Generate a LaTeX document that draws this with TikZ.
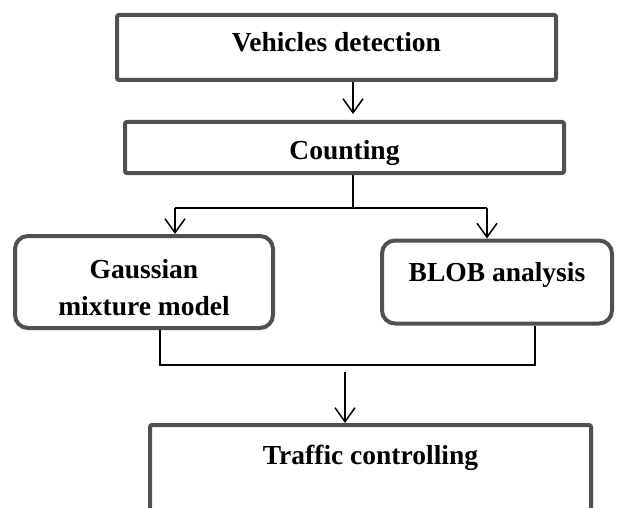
\documentclass[tikz,border=0pt]{standalone}
\usepackage{fontspec}
\setmainfont{Liberation Serif}
\usetikzlibrary{arrows.meta, positioning}
\definecolor{boxline}{RGB}{80, 80, 80}

\begin{document}
\begin{tikzpicture}[
    x = 1pt, y = -1pt,
    box/.style = {rectangle, rounded corners=2pt, draw=boxline, line width=4pt,
                  inner sep=0pt, align=center,
                  font=\fontsize{27.5}{37}\selectfont\bfseries},
    rbox/.style = {box, rounded corners=13pt},
    line/.style = {line width=1.5pt},
    arrow/.style = {line, -{Straight Barb[length=14pt, width=20pt]}}
  ]
    \useasboundingbox (0,0) rectangle (618,508);

    \node[box, minimum width=439pt, minimum height=65pt,
          text height=19pt, text depth=10pt] (veh) at (336.5,47.5)
      {Vehicles detection};

    \node[box, minimum width=439pt, minimum height=51pt,
          text height=24pt, text depth=1pt,
          below=38pt of veh, xshift=8pt] (count)
      {Counting};

    \node[rbox, minimum width=258pt, minimum height=92pt,
          text height=67pt, text depth=0pt,
          below=59pt of count, xshift=-200.5pt] (gauss)
      {Gaussian\\mixture model};

    \node[rbox, minimum width=230pt, minimum height=83pt,
          text height=19pt, text depth=20pt,
          right=105pt of gauss] (blob)
      {BLOB analysis};

    \node[box, minimum width=441pt, minimum height=90pt,
          text height=19pt, text depth=31pt,
          below=93pt of gauss, xshift=226.5pt] (traffic)
      {Traffic controlling};

    % split after counting
    \coordinate (sp) at (353,208);
    \coordinate (sl) at (175,208);
    \coordinate (sr) at (487,208);
    % join before traffic controlling
    \coordinate (jl) at (160,365);
    \coordinate (jm) at (345,365);
    \coordinate (jr) at (535,365);

    \draw[arrow, shorten >=6pt] (veh.south -| sp) -- (count.north -| sp);
    \draw[line] (count.south -| sp) -- (sp);
    \draw[line] (sl) -- (sr);
    \draw[arrow] (sl) -- (gauss.north -| sl);
    \draw[arrow] (sr) -- (blob.north -| sr);

    \draw[line] (gauss.south -| jl) -- (jl) -- (jr) -- (blob.south -| jr);
    \draw[arrow, shorten <=7pt] (jm) -- (traffic.north -| jm);
  \end{tikzpicture}
\end{document}
